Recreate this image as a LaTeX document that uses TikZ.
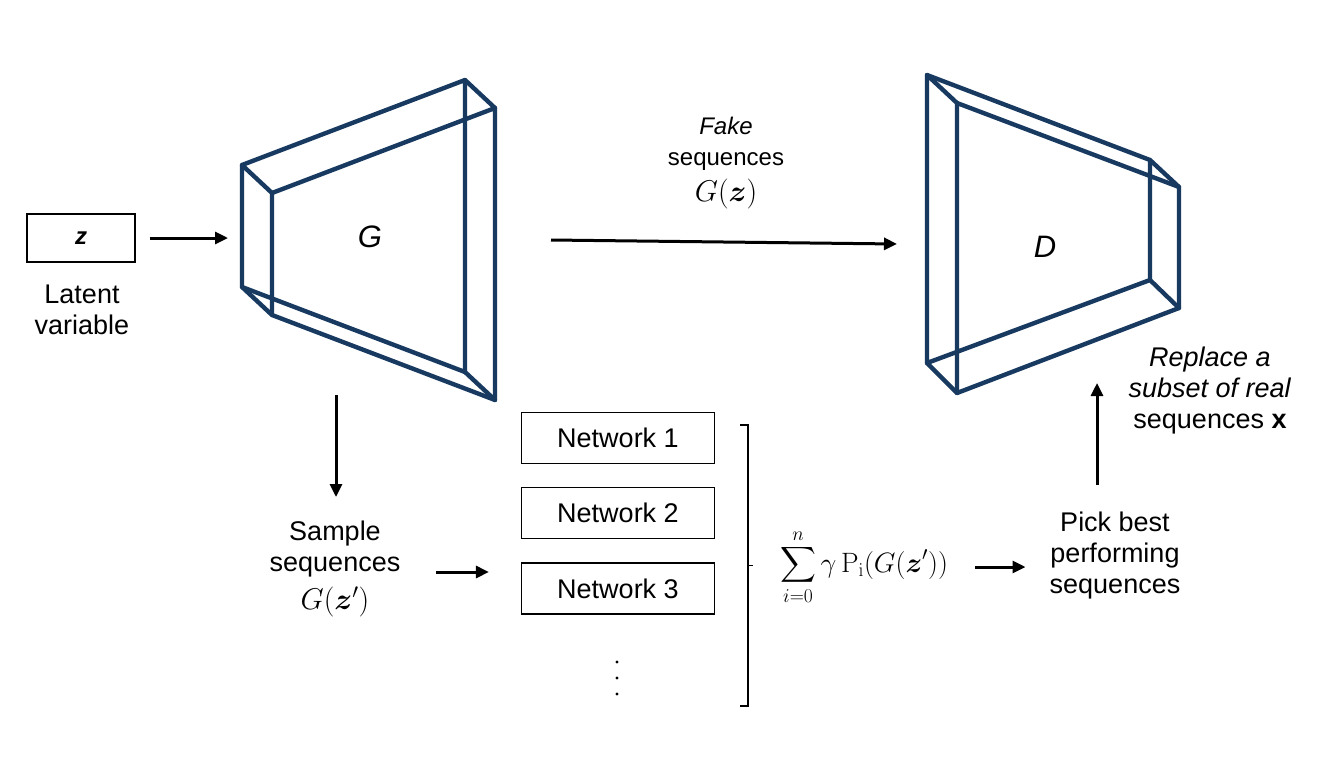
\RequirePackage{fix-cm}
\documentclass[tikz,border=0pt]{standalone}
\usepackage{amsmath}
\usepackage{bm}
\usepackage[no-math]{fontspec}
\setmainfont{Liberation Sans}
\usetikzlibrary{arrows.meta, calc, positioning}
\definecolor{prismblue}{RGB}{24,58,97}
\tikzstyle{prism} = [draw=prismblue, line width=4.4pt, line join=round, line cap=round]
\tikzstyle{block} = [rectangle, draw=black, line width=1.2pt, minimum width=193pt, minimum height=51pt, text centered]
\tikzstyle{caption} = [align=center, inner sep=0pt]
\tikzstyle{arrow} = [line width=3pt, -{Triangle[length=13pt,width=12pt]}]

\begin{document}
\begin{tikzpicture}[x=1pt, y=-1pt, font=\fontsize{27}{31}\selectfont]
	\useasboundingbox (0,0) rectangle (1344,756);
	% generator
	\coordinate (G1) at (242,165); \coordinate (G2) at (465,80);
	\coordinate (G3) at (465,372); \coordinate (G4) at (242,287);
	\coordinate (G5) at (272,193); \coordinate (G6) at (495,108);
	\coordinate (G7) at (495,400); \coordinate (G8) at (272,315);
	\draw[prism] (G1) -- (G2) -- (G3) -- (G4) -- cycle (G5) -- (G6) -- (G7) -- (G8) -- cycle;
	\foreach \i/\j in {1/5,2/6,3/7,4/8}
		\draw[prism] (G\i) -- (G\j);
	\node (Glabel) at (370,237) {\fontsize{31}{31}\selectfont\textit{G}};
	% discriminator
	\coordinate (D1) at (927,75);  \coordinate (D2) at (1150,160);
	\coordinate (D3) at (1150,280); \coordinate (D4) at (927,363);
	\coordinate (D5) at (957,103); \coordinate (D6) at (1179,187);
	\coordinate (D7) at (1179,308); \coordinate (D8) at (957,393);
	\draw[prism] (D1) -- (D2) -- (D3) -- (D4) -- cycle (D5) -- (D6) -- (D7) -- (D8) -- cycle;
	\foreach \i/\j in {1/5,2/6,3/7,4/8}
		\draw[prism] (D\i) -- (D\j);
	\node (Dlabel) at (1045,247) {\fontsize{31}{31}\selectfont\textit{D}};

	\node (Latent) [rectangle, draw=black, line width=1.2pt, minimum width=108pt, minimum height=48pt] at (81,238) {\fontsize{24}{24}\selectfont\textbf{\textit{z}}};
	\node (LatentText) [caption] at (82,310) {Latent\\variable};
	\node (Fake) [caption, font=\fontsize{24}{31}\selectfont] at (726,163) {\textit{Fake}\\sequences\\[5pt]{\fontsize{30}{30}\selectfont$G(\bm{z})$}};
	\node (Sample) [caption] at (335,569) {Sample\\sequences\\[7pt]{\fontsize{30}{30}\selectfont$G(\bm{z}')$}};

	\node (Net1) [block] at (618,438) {Network 1};
	\node (Net2) [block, below = 23pt of Net1] {Network 2};
	\node (Net3) [block, below = 23pt of Net2] {Network 3};
	\coordinate (Dots) at (617,678);
	\foreach \d in {-16,0,16}
		\fill ($(Dots)+(0,\d)$) circle (1.6);

	\node (Sum) at (864,567) {\fontsize{28}{31}\selectfont$\displaystyle\sum_{i=0}^{n}\gamma\,\mathrm{P}_{\mathrm{i}}(G(\bm{z}'))$};
	\node (Pick) [caption] at (1115,556) {Pick best\\performing\\sequences};
	\node (Replace) [caption] at (1210,391) {\textit{Replace a}\\\textit{subset of real}\\sequences \textbf{x}};

	% bracket
	\coordinate (BrTop) at (740,425);
	\coordinate (BrBot) at (740,706);
	\draw[line width=1.5pt] (BrTop) -- ++(8,0) |- (BrBot);
	\draw[line width=1.5pt] ($(BrTop)!0.5!(BrBot)+(8,0)$) -- ++(5,0);

	\coordinate (GIn) at (242,238);
	\coordinate (GOut) at (495,240);
	\coordinate (DIn) at (927,244);
	\coordinate (GBase) at (336,395);
	\coordinate (SampleOut) at (436,572);
	\coordinate (PickTop) at (1097,485);
	\draw [arrow] ([xshift=14pt]Latent.east) -- ([xshift=-14pt]GIn);
	\draw [arrow] ([xshift=56pt]GOut) -- ([xshift=-30pt]DIn);
	\draw [arrow] (GBase) -- (336,497);
	\draw [arrow] (SampleOut) -- ($(SampleOut -| Net3.west)+(-32,0)$);
	\draw [arrow] (975,567) -- ($(Sum.east -| Pick.west)+(-24,0)$);
	\draw [arrow] (PickTop) -- ([yshift=10pt]D8 -| PickTop);
\end{tikzpicture}
\end{document}
